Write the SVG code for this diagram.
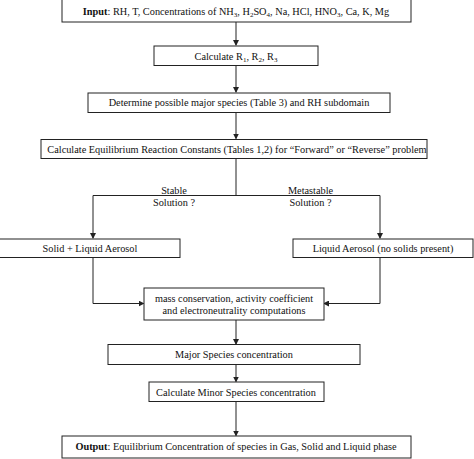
<svg xmlns="http://www.w3.org/2000/svg" width="474" height="459" viewBox="0 0 474 459">
<style>
.box{fill:#fff;stroke:#222;stroke-width:1}
.t{font-family:"Liberation Serif","Times New Roman",serif;font-size:10.3px;fill:#111;text-anchor:middle}
.c{stroke:#222;stroke-width:1;fill:none}
</style>
<defs>
<marker id="ah" markerWidth="6" markerHeight="6" refX="5" refY="3" orient="auto" markerUnits="userSpaceOnUse">
<path d="M0,0 L6,3 L0,6 Z" fill="#222"/>
</marker>
</defs>
<rect width="474" height="459" fill="#fff"/>
<g id="connectors">
<line class="c" x1="236" y1="22" x2="236" y2="45" marker-end="url(#ah)"/>
<line class="c" x1="236" y1="65" x2="236" y2="92" marker-end="url(#ah)"/>
<line class="c" x1="236" y1="112" x2="236" y2="138.5" marker-end="url(#ah)"/>
<polyline class="c" points="236,158 236,195.5"/>
<polyline class="c" points="236,195.5 93,195.5 93,238" marker-end="url(#ah)"/>
<polyline class="c" points="236,195.5 380,195.5 380,238" marker-end="url(#ah)"/>
<polyline class="c" points="93,257 93,303.5 143.5,303.5" marker-end="url(#ah)"/>
<polyline class="c" points="380,257 380,303.5 324,303.5" marker-end="url(#ah)"/>
<line class="c" x1="236" y1="320" x2="236" y2="344" marker-end="url(#ah)"/>
<line class="c" x1="236" y1="364" x2="236" y2="381.5" marker-end="url(#ah)"/>
<line class="c" x1="236" y1="401" x2="236" y2="435.5" marker-end="url(#ah)"/>
<text class="t" x="174" y="194">Stable</text>
<text class="t" x="174" y="205.5">Solution ?</text>
<text class="t" x="310.5" y="194">Metastable</text>
<text class="t" x="310.5" y="205.5">Solution ?</text>
</g>
<g id="input">
<rect class="box" x="62" y="-2" width="349" height="24"/>
<text class="t" x="236" y="14.5"><tspan font-weight="bold">Input</tspan>: RH, T, Concentrations of NH<tspan font-size="7" dy="2">3</tspan><tspan dy="-2">, H</tspan><tspan font-size="7" dy="2">2</tspan><tspan dy="-2">SO</tspan><tspan font-size="7" dy="2">4</tspan><tspan dy="-2">, Na, HCl, HNO</tspan><tspan font-size="7" dy="2">3</tspan><tspan dy="-2">, Ca, K, Mg</tspan></text>
</g>
<g id="calcR">
<rect class="box" x="154" y="46" width="164" height="19.5"/>
<text class="t" x="236" y="59.5">Calculate R<tspan font-size="7" dy="2">1</tspan><tspan dy="-2">, R</tspan><tspan font-size="7" dy="2">2</tspan><tspan dy="-2">, R</tspan><tspan font-size="7" dy="2">3</tspan></text>
</g>
<g id="determine">
<rect class="box" x="88" y="93" width="302" height="19.5"/>
<text class="t" x="239" y="106">Determine possible major species (Table 3) and RH subdomain</text>
</g>
<g id="constants">
<rect class="box" x="41" y="139.5" width="386" height="19"/>
<text class="t" x="237" y="152.5">Calculate Equilibrium Reaction Constants (Tables 1,2) for “Forward” or “Reverse” problem</text>
</g>
<g id="solid">
<rect class="box" x="-1" y="239" width="181" height="18.5"/>
<text class="t" x="90" y="251.5">Solid + Liquid Aerosol</text>
</g>
<g id="liquid">
<rect class="box" x="293" y="239" width="180" height="18.5"/>
<text class="t" x="383" y="251.5">Liquid Aerosol (no solids present)</text>
</g>
<g id="mass">
<rect class="box" x="144" y="288" width="180" height="32"/>
<text class="t" x="234" y="301.5">mass conservation, activity coefficient</text>
<text class="t" x="234" y="314">and electroneutrality computations</text>
</g>
<g id="major">
<rect class="box" x="108" y="344.5" width="252" height="20"/>
<text class="t" x="234" y="358">Major Species concentration</text>
</g>
<g id="minor">
<rect class="box" x="149" y="382" width="175" height="19.5"/>
<text class="t" x="236" y="395.5">Calculate Minor Species concentration</text>
</g>
<g id="output">
<rect class="box" x="62" y="436" width="349" height="22"/>
<text class="t" x="236" y="449.5"><tspan font-weight="bold">Output</tspan>: Equilibrium Concentration of species in Gas, Solid and Liquid phase</text>
</g>
</svg>
